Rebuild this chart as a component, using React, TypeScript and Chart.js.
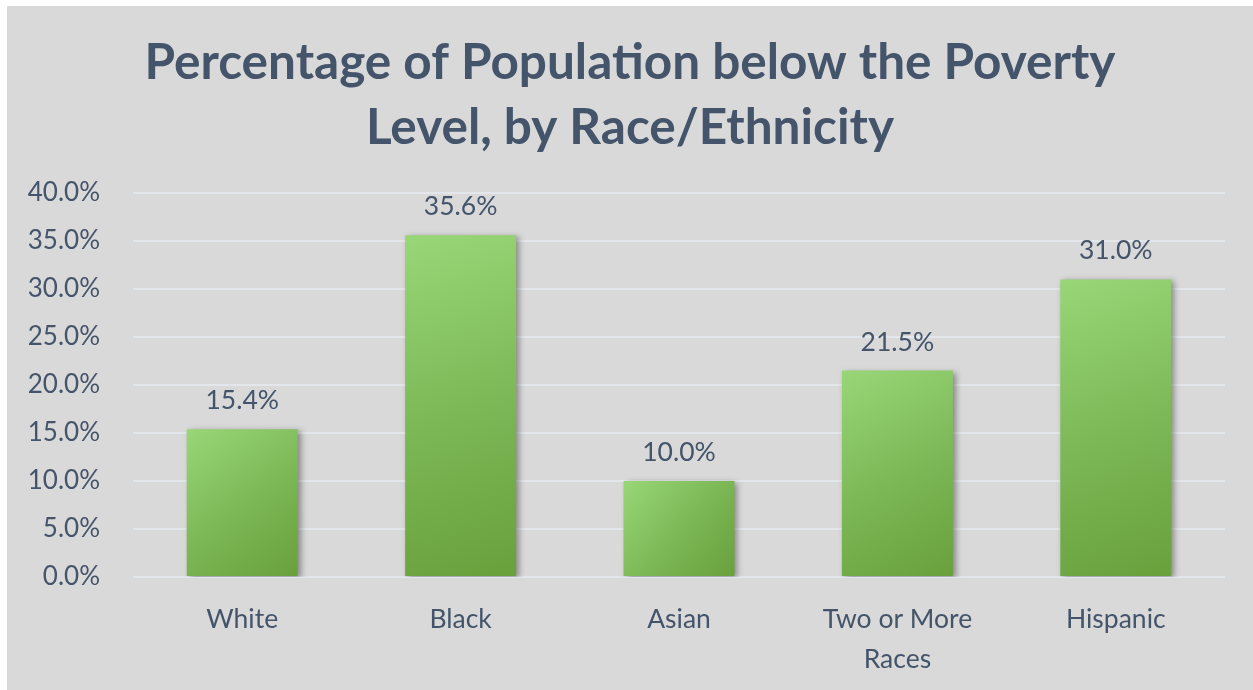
import React, { useEffect, useRef } from 'react';
import { Chart, registerables } from 'chart.js';

Chart.register(...registerables);

const titleLines = ['Percentage of Population below the Poverty', 'Level, by Race/Ethnicity'];
const categories: (string | string[])[] = ['White', 'Black', 'Asian', ['Two or More', 'Races'], 'Hispanic'];
const values = [15.4, 35.6, 10.0, 21.5, 31.0];
const yMin = 0;
const yMax = 40;
const yStep = 5;

const TEXT = '#44546A';
const FONT = 'Lato';

const W = 1246;
const H = 684;

const barShadow = {
  id: 'barShadow',
  beforeDatasetsDraw(chart: any) {
    const ctx = chart.ctx;
    ctx.save();
    ctx.shadowColor = 'rgba(0,0,0,0.38)';
    ctx.shadowBlur = 6;
    ctx.shadowOffsetX = 3;
    ctx.shadowOffsetY = 2;
  },
  afterDatasetsDraw(chart: any) {
    chart.ctx.restore();
  },
};

const dataLabels = {
  id: 'dataLabels',
  afterDraw(chart: any) {
    const ctx = chart.ctx;
    const meta = chart.getDatasetMeta(0);
    ctx.save();
    ctx.fillStyle = TEXT;
    ctx.font = `26.5px ${FONT}`;
    ctx.textAlign = 'center';
    ctx.textBaseline = 'alphabetic';
    meta.data.forEach((el: any, i: number) => {
      ctx.fillText(values[i].toFixed(1) + '%', el.x, el.y - 20);
    });
    ctx.restore();
  },
};

export default function App() {
  const ref = useRef<HTMLCanvasElement | null>(null);

  useEffect(() => {
    if (!ref.current) return;
    const chart = new Chart(ref.current, {
      type: 'bar',
      data: {
        labels: categories as any,
        datasets: [
          {
            data: values,
            backgroundColor: (c: any) => {
              const ch = c.chart;
              if (!ch.chartArea || c.dataIndex === undefined) return '#7DBB55';
              const xs = ch.scales.x;
              const ys = ch.scales.y;
              const cx = xs.getPixelForValue(c.dataIndex);
              const half = 55;
              const top = ys.getPixelForValue(values[c.dataIndex]);
              const bottom = ys.getPixelForValue(0);
              const g = ch.ctx.createLinearGradient(cx - half, top, cx + half, bottom);
              g.addColorStop(0, '#98D677');
              g.addColorStop(0.5, '#7DB957');
              g.addColorStop(1, '#68A03C');
              return g;
            },
            borderWidth: 0,
            barPercentage: 0.508,
            categoryPercentage: 1,
            yAxisID: 'y',
          },
        ],
      },
      options: {
        responsive: false,
        animation: false,
        devicePixelRatio: 1,
        layout: { padding: 0 },
        plugins: {
          legend: { display: false },
          tooltip: { enabled: false },
          title: {
            display: true,
            text: titleLines,
            color: TEXT,
            font: { family: FONT, size: 49.5, weight: 'bold', lineHeight: 1.313 },
            padding: { top: 25, bottom: 32 },
          },
        },
        scales: {
          x: {
            grid: { display: false, drawTicks: false },
            border: { display: false },
            ticks: {
              color: TEXT,
              font: { family: FONT, size: 26.5, lineHeight: 1.5 },
              padding: 23,
              maxRotation: 0,
              autoSkip: false,
            },
            afterFit: (s: any) => {
              s.height = 113;
            },
          },
          y: {
            min: yMin,
            max: yMax,
            grid: { color: '#E3E6EA', lineWidth: 2, drawTicks: false },
            border: { display: false },
            ticks: {
              stepSize: yStep,
              color: TEXT,
              font: { family: FONT, size: 26 },
              padding: 33,
              callback: (v: any) => Number(v).toFixed(1) + '%',
            },
            afterFit: (s: any) => {
              s.width = 126;
            },
          },
          yR: {
            type: 'linear',
            position: 'right',
            display: true,
            grid: { display: false, drawTicks: false },
            border: { display: false },
            ticks: { display: false },
            afterFit: (s: any) => {
              s.width = 28;
            },
          },
        },
      } as any,
      plugins: [barShadow, dataLabels],
    });
    return () => chart.destroy();
  }, []);

  return (
    <div
      style={{
        position: 'fixed',
        left: 7,
        top: 6,
        width: W,
        height: H,
        background: '#D9D9D9',
      }}
    >
      <canvas ref={ref} width={W} height={H} style={{ display: 'block', width: W, height: H }} />
    </div>
  );
}
